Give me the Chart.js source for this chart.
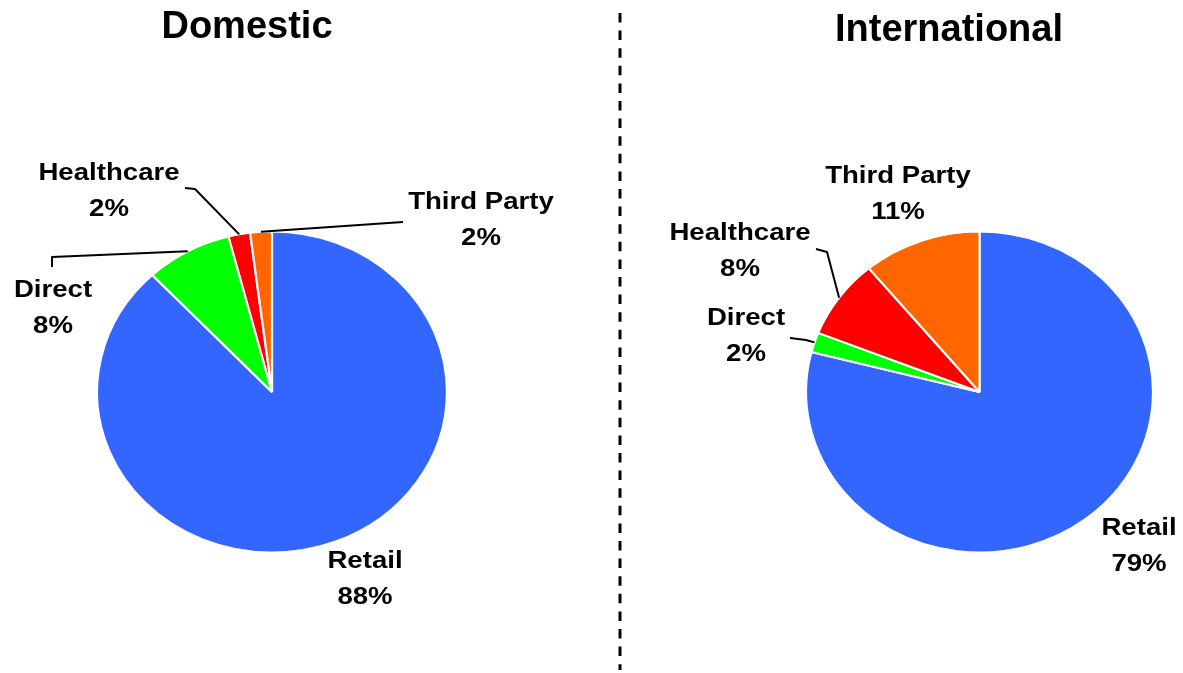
<!DOCTYPE html>
<html>
<head>
<meta charset="utf-8">
<script src="https://cdn.jsdelivr.net/npm/chart.js@4.4.1/dist/chart.umd.min.js"></script>
<style>
html,body{margin:0;padding:0;background:#fff;}
#wrap{position:relative;width:1183px;height:673px;overflow:hidden;background:#fff;}
canvas{position:absolute;left:0;top:0;}
.title{position:absolute;font-family:"Liberation Sans",Arial,sans-serif;font-weight:bold;font-size:38px;line-height:38px;color:#000;white-space:nowrap;transform:translateX(-50%);}
</style>
</head>
<body>
<div id="wrap">
  <canvas id="c1" width="1183" height="673"></canvas>
  <canvas id="c2" width="1183" height="673"></canvas>
  <div class="title" style="left:247px;top:6px">Domestic</div>
  <div class="title" style="left:949px;top:9px">International</div>
</div>
<script>
// ---- data ----
const categories = ['Retail', 'Direct', 'Healthcare', 'Third Party'];
const domesticValues = [88, 8, 2, 2];
const internationalValues = [79, 2, 8, 11];
const sliceColors = ['#3366FF', '#00FF00', '#FF0000', '#FF6600'];

// ---- label layout (annotation positions, not data) ----
const domesticLabels = [
  { x: 365, y: 568, leader: null },
  { x: 53,  y: 297, leader: [[52, 267], [52, 257]] },
  { x: 109, y: 180, leader: [[185, 188], [195, 189]] },
  { x: 481, y: 209, leader: [[403, 222]] }
];
const internationalLabels = [
  { x: 1139, y: 535, leader: null },
  { x: 746,  y: 325, leader: [[790, 338], [806, 340]] },
  { x: 740,  y: 240, leader: [[816, 249], [827, 252]] },
  { x: 898,  y: 183, leader: null }
];

const FONT = 'bold 23px "Liberation Sans", Arial, sans-serif';
const LINE_GAP = 35.5;
const TEXT_SX = 1.2;

function makePlugin(opts) {
  return {
    id: 'pieDeco' + opts.key,
    beforeDatasetsDraw(chart) {
      const ctx = chart.ctx, a = chart.chartArea;
      const cx = (a.left + a.right) / 2;
      ctx.save();
      ctx.translate(cx, 0);
      ctx.scale(opts.sx, 1);
      ctx.translate(-cx, 0);
    },
    afterDatasetsDraw(chart) {
      chart.ctx.restore();
    },
    afterDraw(chart) {
      const ctx = chart.ctx;
      const arcs = chart.getDatasetMeta(0).data;
      const vals = chart.data.datasets[0].data;
      const labs = chart.data.labels;
      ctx.save();
      ctx.strokeStyle = '#000';
      ctx.lineWidth = 2;
      ctx.lineJoin = 'round';
      ctx.lineCap = 'butt';
      const txt = (s, x, y) => {
        ctx.save();
        ctx.translate(x, y);
        ctx.scale(TEXT_SX, 1);
        ctx.fillText(s, 0, 0);
        ctx.restore();
      };
      opts.labels.forEach((lb, i) => {
        const p = arcs[i].getProps(['x', 'y', 'startAngle', 'endAngle', 'outerRadius'], true);
        const mid = (p.startAngle + p.endAngle) / 2;
        const ex = p.x + opts.sx * p.outerRadius * Math.cos(mid);
        const ey = p.y + p.outerRadius * Math.sin(mid);
        if (lb.leader) {
          ctx.beginPath();
          ctx.moveTo(lb.leader[0][0], lb.leader[0][1]);
          for (let k = 1; k < lb.leader.length; k++) ctx.lineTo(lb.leader[k][0], lb.leader[k][1]);
          ctx.lineTo(ex, ey);
          ctx.stroke();
        }
        ctx.font = FONT;
        ctx.fillStyle = '#000';
        ctx.textAlign = 'center';
        ctx.textBaseline = 'alphabetic';
        txt(labs[i], lb.x, lb.y);
        txt(vals[i] + '%', lb.x, lb.y + LINE_GAP);
      });
      if (opts.divider) {
        ctx.beginPath();
        ctx.setLineDash([9.5, 8.1]);
        ctx.lineWidth = 3;
        ctx.moveTo(620, 13);
        ctx.lineTo(620, 670);
        ctx.stroke();
      }
      ctx.restore();
    }
  };
}

function makeChart(id, values, labelsLayout, padding, sx, key, divider) {
  return new Chart(document.getElementById(id), {
    type: 'pie',
    data: {
      labels: categories,
      datasets: [{
        data: values,
        backgroundColor: sliceColors,
        borderColor: '#FFFFFF',
        borderWidth: 2,
        hoverOffset: 0,
        radius: 160.5
      }]
    },
    options: {
      responsive: false,
      animation: false,
      devicePixelRatio: 1,
      events: [],
      layout: { padding: padding },
      plugins: { legend: { display: false }, tooltip: { enabled: false }, title: { display: false } }
    },
    plugins: [makePlugin({ key: key, sx: sx, labels: labelsLayout, divider: divider })]
  });
}

makeChart('c1', domesticValues, domesticLabels,
  { left: 111.5, right: 750.5, top: 231.5, bottom: 120.5 }, 1.09, 'D', true);
makeChart('c2', internationalValues, internationalLabels,
  { left: 819, right: 43, top: 231.5, bottom: 120.5 }, 1.081, 'I', false);
</script>
</body>
</html>
